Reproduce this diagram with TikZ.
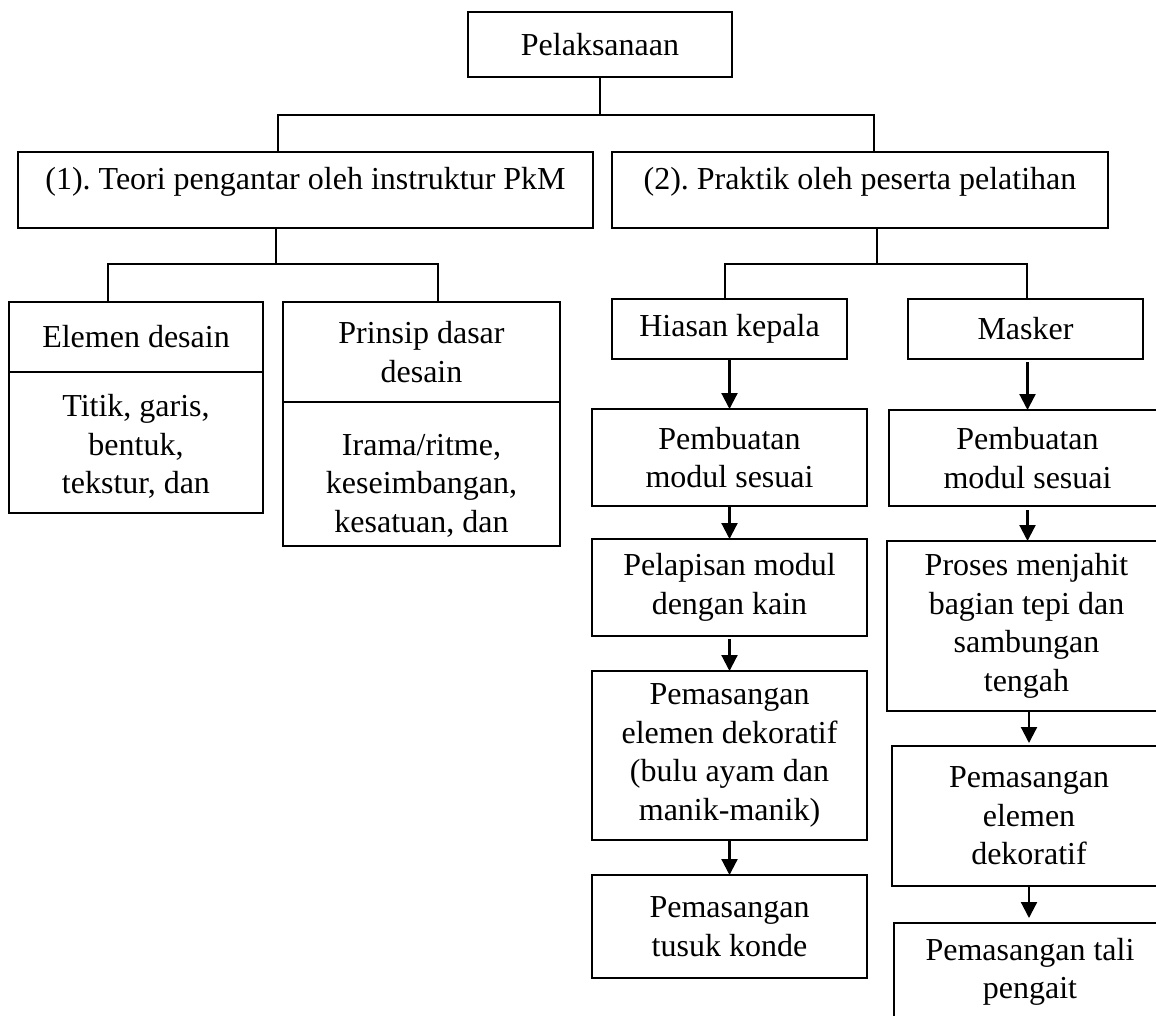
\documentclass[tikz,border=0pt]{standalone}
\usepackage{fontspec}
\setmainfont{Liberation Serif}
\usetikzlibrary{arrows.meta,calc}

\begin{document}
\begin{tikzpicture}[x=1pt,y=-1pt,
  box/.style={draw,line width=2.2pt,anchor=north west,inner sep=0pt,outer sep=0pt,
    align=center,font=\fontsize{32}{38.5}\selectfont\frenchspacing},
  link/.style={line width=2.2pt},
  arr/.style={line width=2.2pt,-{Triangle[width=16pt,length=16pt]}}]
  \useasboundingbox (0,0) rectangle (1156,1016);
  \node[box,minimum width=264,minimum height=65] (plk) at (468,12) {Pelaksanaan};
  \node[box,minimum width=575,minimum height=76,text depth=23pt] (t1) at (18,152) {(1). Teori pengantar oleh instruktur PkM};
  \node[box,minimum width=496,minimum height=76,text depth=23pt] (t2) at (612,152) {(2). Praktik oleh peserta pelatihan};
  % teori
  \node[box,minimum width=254,minimum height=70] (el) at (9,302) {Elemen desain};
  \node[box,minimum width=254,minimum height=141] (elx) at (el.south west) {\rule{0pt}{30pt}Titik, garis,\\bentuk,\\tekstur, dan};
  \node[box,minimum width=277,minimum height=100] (pr) at (283,302) {Prinsip dasar\\desain};
  \node[box,minimum width=277,minimum height=144] (prx) at (pr.south west) {\rule{0pt}{44pt}Irama/ritme,\\keseimbangan,\\kesatuan, dan};
  % praktik
  \node[box,minimum width=235,minimum height=60] (hk) at (612,299) {Hiasan kepala};
  \node[box,minimum width=235,minimum height=60] (mk) at (908,299) {Masker};
  \node[box,minimum width=275,minimum height=97] (h1) at (592,409) {Pembuatan\\modul sesuai};
  \node[box,minimum width=275,minimum height=97] (h2) at (592,539) {Pelapisan modul\\dengan kain};
  \node[box,minimum width=275,minimum height=169] (h3) at (592,671) {Pemasangan\\elemen dekoratif\\(bulu ayam dan\\manik-manik)};
  \node[box,minimum width=275,minimum height=103] (h4) at (592,875) {Pemasangan\\tusuk konde};
  \node[box,minimum width=277,minimum height=96] (m1) at (889,410) {Pembuatan\\modul sesuai};
  \node[box,minimum width=279,minimum height=170] (m2) at (887,541) {Proses menjahit\\bagian tepi dan\\sambungan\\tengah};
  \node[box,minimum width=274,minimum height=140] (m3) at (892,746) {Pemasangan\\elemen\\dekoratif};
  \node[box,minimum width=272,minimum height=98] (m4) at (894,923) {Pemasangan tali\\pengait};

  \coordinate (j0l) at (278,115);
  \coordinate (j0r) at (874,115);
  \coordinate (j1) at (276,264);
  \coordinate (j1l) at (108,264);
  \coordinate (j1r) at (438,264);
  \coordinate (j2) at (877,264);
  \coordinate (j2l) at (725,264);
  \coordinate (j2r) at (1027,264);
  \draw[link] (plk.south) -- (plk.south |- j0l);
  \draw[link] (t1.north -| j0l) -- (j0l) -- (j0r) -- (t2.north -| j0r);
  \draw[link] (t1.south -| j1) -- (j1);
  \draw[link] (el.north -| j1l) -- (j1l) -- (j1r) -- (pr.north -| j1r);
  \draw[link] (t2.south -| j2) -- (j2);
  \draw[link] (hk.north -| j2l) -- (j2l) -- (j2r) -- (mk.north -| j2r);

  \path[arr]
    (hk) edge (h1)
    (h1) edge (h2)
    (h2.south) edge[shorten <=3pt] (h2.south |- h3.north)
    (h3.south) edge (h3.south |- h4.north)
    (m1.north |- mk.south) edge[shorten <=3pt] (m1.north)
    (m1.south) edge[shorten <=4pt] (m1.south |- m2.north)
    (m3.north |- m2.south) edge[shorten >=3pt] (m3.north)
    (m3.south) edge[shorten >=5pt] (m3.south |- m4.north);
\end{tikzpicture}
\end{document}
